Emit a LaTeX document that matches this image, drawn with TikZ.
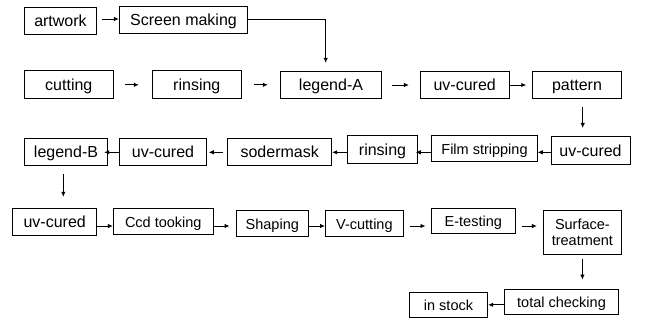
\documentclass[tikz,border=0pt]{standalone}
\usepackage{fontspec}
\setmainfont{Liberation Sans}
\usetikzlibrary{arrows.meta}
\begin{document}
\begin{tikzpicture}[x=1pt,y=-1pt,
  boxbase/.style={draw=black,line width=0.9pt,inner sep=0pt,align=center},
  box/.style={boxbase,text height=12pt,text depth=0pt,font=\fontsize{16}{18}\selectfont},
  sbox/.style={boxbase,text height=12pt,text depth=0pt,font=\fontsize{14.5}{16.5}\selectfont},
  mbox/.style={boxbase,font=\fontsize{14.5}{16.5}\selectfont},
  arr/.style={draw=black,line width=0.9pt,-{Latex[length=5pt,width=4.5pt]}}]
\useasboundingbox (0,0) rectangle (645,334);
% row 1
\node[box,minimum width=72.4pt,minimum height=27pt] (artwork) at (60.5,20.8) {artwork};
\node[box,minimum width=128.4pt,minimum height=27.3pt] (screen) at (183.5,19.7) {Screen making};
% row 2
\node[box,minimum width=89pt,minimum height=27.7pt] (cutting) at (68.8,84.8) {cutting};
\node[box,minimum width=89pt,minimum height=27.7pt] (rinsA) at (196.8,84.8) {rinsing};
\node[box,minimum width=101.4pt,minimum height=27.4pt] (legA) at (331,85) {legend-A};
\node[box,minimum width=89.3pt,minimum height=27.4pt] (uvA) at (464.7,85) {uv-cured};
\node[box,minimum width=89.4pt,minimum height=27.4pt] (pattern) at (577,85) {pattern};
% row 3
\node[box,minimum width=79pt,minimum height=28.3pt] (uvB) at (590.5,150.2) {uv-cured};
\node[sbox,minimum width=105.6pt,minimum height=26.3pt] (film) at (484.5,148.2) {Film stripping};
\node[box,minimum width=69.6pt,minimum height=28pt] (rinsB) at (382.5,149.3) {rinsing};
\node[box,minimum width=104pt,minimum height=27pt] (soder) at (279.7,151.8) {sodermask};
\node[box,minimum width=87.4pt,minimum height=27pt] (uvC) at (163,151.8) {uv-cured};
\node[box,minimum width=83.4pt,minimum height=27pt] (legB) at (66,151.8) {legend-B};
% row 4
\node[box,minimum width=84pt,minimum height=27pt] (uvD) at (54.7,221.8) {uv-cured};
\node[sbox,minimum width=100pt,minimum height=25.7pt] (ccd) at (163.3,221.2) {Ccd tooking};
\node[sbox,minimum width=72pt,minimum height=26.4pt] (shaping) at (272.3,223.5) {Shaping};
\node[sbox,minimum width=77.8pt,minimum height=26.7pt] (vcut) at (364.4,223.4) {V-cutting};
\node[sbox,minimum width=83.3pt,minimum height=25pt] (etest) at (473.3,220.8) {E-testing};
\node[mbox,minimum width=78.2pt,minimum height=43.6pt] (surface) at (582.4,232.5) {Surface-\\treatment};
% row 5
\node[sbox,minimum width=114.4pt,minimum height=24.7pt] (total) at (561.5,301.7) {total checking};
\node[sbox,minimum width=78.4pt,minimum height=25pt] (stock) at (448.5,304.8) {in stock};
% helper coordinates
\coordinate (r1) at (0,19);
\coordinate (r3) at (0,152.3);
\coordinate (r4) at (0,226);
% connectors
\draw[arr,shorten <=5pt] (artwork.east |- r1) -- (screen.west |- r1);
\draw[arr,shorten >=8pt] (screen.east) -| ([xshift=-5.3pt]legA.north);
\draw[arr,shorten <=11pt,shorten >=13pt] (cutting) -- (rinsA);
\draw[arr,shorten <=12pt,shorten >=12pt] (rinsA.east) -- (rinsA.east -| legA.west);
\draw[arr,shorten <=10pt,shorten >=10.7pt] (legA) -- (uvA);
\draw[arr,shorten >=5.6pt] (uvA) -- (pattern);
\draw[arr,shorten <=8pt,shorten >=7.7pt] ([xshift=5.7pt]pattern.south) -- ([xshift=5.7pt]pattern.south |- uvB.north);
\draw[arr] (uvB.west |- r3) -- (film.east |- r3);
\draw[arr,shorten >=-2pt] (film.west |- r3) -- (rinsB.east |- r3);
\draw[arr] (rinsB.west |- r3) -- (soder.east |- r3);
\draw[arr,shorten <=4.7pt,shorten >=1.6pt] (soder.west |- r3) -- (uvC.east |- r3);
\draw[arr,shorten >=-4pt] (uvC.west |- r3) -- (legB.east |- r3);
\draw[arr,shorten <=8pt,shorten >=11pt] ([xshift=-2.7pt]legB.south) -- ([xshift=-2.7pt]legB.south |- uvD.north);
\draw[arr] (uvD.east |- r4) -- (ccd.west |- r4);
\draw[arr,shorten >=6.3pt] (ccd.east |- r4) -- (shaping.west |- r4);
\draw[arr] (shaping.east |- r4) -- (vcut.west |- r4);
\draw[arr,shorten <=6pt,shorten >=5.7pt] (vcut.east |- r4) -- (etest.west |- r4);
\draw[arr,shorten <=6.7pt,shorten >=6pt] (etest.east |- r4) -- (surface.west |- r4);
\draw[arr,shorten <=4pt,shorten >=9.3pt] (surface.south) -- (surface.south |- total.north);
\draw[arr] (total.west |- stock) -- (stock.east);
\end{tikzpicture}
\end{document}
